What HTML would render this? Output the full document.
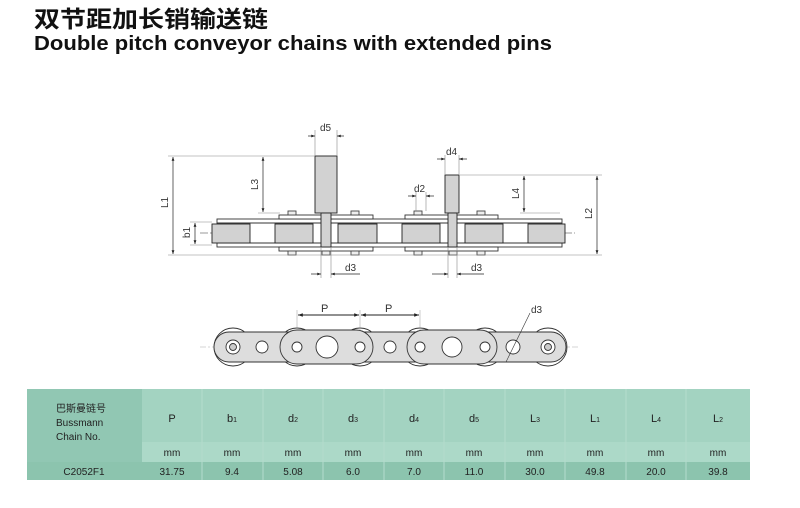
<!DOCTYPE html>
<html><head><meta charset="utf-8"><style>
body{margin:0;background:#fff;width:800px;height:508px;overflow:hidden;font-family:"Liberation Sans","Noto Sans CJK SC",sans-serif}
svg{display:block}
</style></head><body>
<svg width="800" height="508" viewBox="0 0 800 508" xmlns="http://www.w3.org/2000/svg" font-family="Liberation Sans, Noto Sans CJK SC, sans-serif">
<defs>
<marker id="a" viewBox="0 0 8 6" refX="8" refY="3" markerWidth="6" markerHeight="4" orient="auto-start-reverse"><path d="M0,0L8,3L0,6z" fill="#222"/></marker>
</defs>
<text x="34" y="27" font-size="23" font-weight="bold" fill="#111" font-family="Noto Sans CJK SC, sans-serif" textLength="234" lengthAdjust="spacingAndGlyphs">双节距加长销输送链</text>
<text x="34" y="50" font-size="20" font-weight="bold" fill="#111" textLength="518" lengthAdjust="spacingAndGlyphs">Double pitch conveyor chains with extended pins</text>

<g stroke="#333" stroke-width="0.9" fill="none">
<line x1="200" y1="233" x2="575" y2="233" stroke="#999" stroke-dasharray="8,2,2,2"/>
<rect x="217" y="219" width="345" height="28" fill="#fff"/>
<line x1="217" y1="223" x2="562" y2="223"/><line x1="217" y1="243" x2="562" y2="243"/>
<rect x="279" y="215" width="94" height="4" fill="#fff"/><rect x="279" y="247" width="94" height="4" fill="#fff"/>
<rect x="405" y="215" width="93" height="4" fill="#fff"/><rect x="405" y="247" width="93" height="4" fill="#fff"/>
<g fill="#d2d2d2" stroke="#222">
<rect x="212" y="224" width="38" height="19"/><rect x="275" y="224" width="38" height="19"/>
<rect x="338" y="224" width="39" height="19"/><rect x="402" y="224" width="38" height="19"/>
<rect x="465" y="224" width="38" height="19"/><rect x="528" y="224" width="37" height="19"/>
<rect x="315" y="156" width="22" height="57"/><rect x="321" y="213" width="10" height="34"/>
<rect x="445" y="175" width="14" height="38"/><rect x="448" y="213" width="9" height="34"/>
</g>
<g stroke="#444" fill="#eee">
<rect x="288" y="211" width="8" height="4"/><rect x="351" y="211" width="8" height="4"/><rect x="414" y="211" width="8" height="4"/><rect x="477" y="211" width="8" height="4"/>
<rect x="288" y="251" width="8" height="4"/><rect x="322" y="251" width="8" height="4"/><rect x="351" y="251" width="8" height="4"/><rect x="414" y="251" width="8" height="4"/><rect x="449" y="251" width="8" height="4"/><rect x="477" y="251" width="8" height="4"/>
</g>
</g>
<g stroke="#888" stroke-width="0.6" fill="none">
<line x1="168" y1="156" x2="315" y2="156"/><line x1="460" y1="175" x2="602" y2="175"/>
<line x1="168" y1="255" x2="602" y2="255"/><line x1="190" y1="222" x2="212" y2="222"/><line x1="190" y1="245" x2="212" y2="245"/>
<line x1="258" y1="213" x2="280" y2="213"/><line x1="520" y1="213" x2="560" y2="213"/>
<line x1="315" y1="130" x2="315" y2="156"/><line x1="337" y1="130" x2="337" y2="156"/>
<line x1="445" y1="155" x2="445" y2="175"/><line x1="459" y1="155" x2="459" y2="175"/>
<line x1="416" y1="192" x2="416" y2="211"/><line x1="426" y1="192" x2="426" y2="211"/>
<line x1="321" y1="247" x2="321" y2="278"/><line x1="331" y1="247" x2="331" y2="278"/>
<line x1="448" y1="247" x2="448" y2="278"/><line x1="457" y1="247" x2="457" y2="278"/>
</g>
<g stroke="#222" stroke-width="0.7">
<line x1="173" y1="157" x2="173" y2="254" marker-start="url(#a)" marker-end="url(#a)"/>
<line x1="263" y1="157" x2="263" y2="212" marker-start="url(#a)" marker-end="url(#a)"/>
<line x1="524" y1="176" x2="524" y2="212" marker-start="url(#a)" marker-end="url(#a)"/>
<line x1="597" y1="176" x2="597" y2="254" marker-start="url(#a)" marker-end="url(#a)"/>
<line x1="195" y1="223" x2="195" y2="244" marker-start="url(#a)" marker-end="url(#a)"/>
<line x1="308" y1="136" x2="315" y2="136" marker-end="url(#a)"/><line x1="344" y1="136" x2="337" y2="136" marker-end="url(#a)"/>
<line x1="437" y1="159" x2="445" y2="159" marker-end="url(#a)"/><line x1="467" y1="159" x2="459" y2="159" marker-end="url(#a)"/>
<line x1="408" y1="196" x2="416" y2="196" marker-end="url(#a)"/><line x1="434" y1="196" x2="426" y2="196" marker-end="url(#a)"/>
<line x1="311" y1="274" x2="321" y2="274" marker-end="url(#a)"/><line x1="360" y1="274" x2="331" y2="274" marker-end="url(#a)"/>
<line x1="432" y1="274" x2="448" y2="274" marker-end="url(#a)"/><line x1="484" y1="274" x2="457" y2="274" marker-end="url(#a)"/>
</g>
<g font-size="10" fill="#333">
<text x="320" y="131">d5</text><text x="446" y="155">d4</text><text x="414" y="192">d2</text>
<text x="345" y="271">d3</text><text x="471" y="271">d3</text>
<text x="258" y="190" transform="rotate(-90 258 190)">L3</text>
<text x="168" y="208" transform="rotate(-90 168 208)">L1</text>
<text x="519" y="199" transform="rotate(-90 519 199)">L4</text>
<text x="592" y="219" transform="rotate(-90 592 219)">L2</text>
<text x="190" y="238" transform="rotate(-90 190 238)">b1</text>
</g>

<g stroke="#333" stroke-width="0.9">
<line x1="200" y1="347" x2="580" y2="347" stroke="#aaa" stroke-dasharray="6,2,2,2" stroke-width="0.5"/>
<g fill="#fff">
<circle cx="233" cy="347" r="19"/><circle cx="297" cy="347" r="19"/><circle cx="360" cy="347" r="19"/>
<circle cx="420" cy="347" r="19"/><circle cx="485" cy="347" r="19"/><circle cx="548" cy="347" r="19"/>
</g>
<rect x="214" y="332" width="352" height="30" rx="15" fill="#ddd"/>
<g fill="#ddd">
<rect x="280" y="330" width="93" height="34" rx="17"/><rect x="407" y="330" width="90" height="34" rx="17"/>
</g>
<g fill="#fff">
<circle cx="233" cy="347" r="7"/><circle cx="548" cy="347" r="7"/>
<circle cx="262" cy="347" r="6"/><circle cx="327" cy="347" r="11"/><circle cx="390" cy="347" r="6"/>
<circle cx="452" cy="347" r="10"/><circle cx="513" cy="347" r="7"/>
<circle cx="297" cy="347" r="5"/><circle cx="360" cy="347" r="5"/><circle cx="420" cy="347" r="5"/><circle cx="485" cy="347" r="5"/>
</g>
<circle cx="233" cy="347" r="3.5" fill="#ccc"/><circle cx="548" cy="347" r="3.5" fill="#ccc"/>
<line x1="298" y1="315" x2="359" y2="315" stroke="#222" marker-start="url(#a)" marker-end="url(#a)"/>
<line x1="361" y1="315" x2="419" y2="315" stroke="#222" marker-start="url(#a)" marker-end="url(#a)"/>
<line x1="297" y1="310" x2="297" y2="330" stroke="#999" stroke-width="0.5"/><line x1="360" y1="310" x2="360" y2="330" stroke="#999" stroke-width="0.5"/><line x1="420" y1="310" x2="420" y2="330" stroke="#999" stroke-width="0.5"/>
<line x1="506" y1="362" x2="530" y2="313" stroke="#333" stroke-width="0.6"/>
</g>
<g font-size="11" fill="#333"><text x="321" y="312">P</text><text x="385" y="312">P</text><text x="531" y="313" font-size="10">d3</text></g>

<rect x="27" y="389" width="723" height="91" fill="#a3d3c1"/>
<rect x="142" y="442" width="608" height="20" fill="#acd9c8"/>
<rect x="27" y="389" width="115" height="73" fill="#91c7b3"/>
<rect x="27" y="462" width="723" height="18" fill="#8cc4ae"/>
<g stroke="#b4dccd" stroke-width="1">
<line x1="202" y1="389" x2="202" y2="480"/><line x1="263" y1="389" x2="263" y2="480"/><line x1="323" y1="389" x2="323" y2="480"/>
<line x1="384" y1="389" x2="384" y2="480"/><line x1="444" y1="389" x2="444" y2="480"/><line x1="505" y1="389" x2="505" y2="480"/>
<line x1="565" y1="389" x2="565" y2="480"/><line x1="626" y1="389" x2="626" y2="480"/><line x1="686" y1="389" x2="686" y2="480"/>
</g>
<g font-size="10" fill="#222">
<text x="56" y="412" font-size="10">巴斯曼链号</text>
<text x="56" y="426">Bussmann</text><text x="56" y="440">Chain No.</text>
<g text-anchor="middle" font-size="11">
<text x="172" y="422">P</text><text x="232" y="422">b<tspan font-size="7">1</tspan></text><text x="293" y="422">d<tspan font-size="7">2</tspan></text>
<text x="353" y="422">d<tspan font-size="7">3</tspan></text><text x="414" y="422">d<tspan font-size="7">4</tspan></text><text x="474" y="422">d<tspan font-size="7">5</tspan></text>
<text x="535" y="422">L<tspan font-size="7">3</tspan></text><text x="595" y="422">L<tspan font-size="7">1</tspan></text><text x="656" y="422">L<tspan font-size="7">4</tspan></text><text x="718" y="422">L<tspan font-size="7">2</tspan></text>
</g>
<g text-anchor="middle" font-size="10">
<text x="172" y="456">mm</text><text x="232" y="456">mm</text><text x="293" y="456">mm</text><text x="353" y="456">mm</text><text x="414" y="456">mm</text>
<text x="474" y="456">mm</text><text x="535" y="456">mm</text><text x="595" y="456">mm</text><text x="656" y="456">mm</text><text x="718" y="456">mm</text>
<text x="84" y="475">C2052F1</text><text x="172" y="475">31.75</text><text x="232" y="475">9.4</text><text x="293" y="475">5.08</text><text x="353" y="475">6.0</text>
<text x="414" y="475">7.0</text><text x="474" y="475">11.0</text><text x="535" y="475">30.0</text><text x="595" y="475">49.8</text><text x="656" y="475">20.0</text><text x="718" y="475">39.8</text>
</g>
</g>
</svg>
</body></html>
